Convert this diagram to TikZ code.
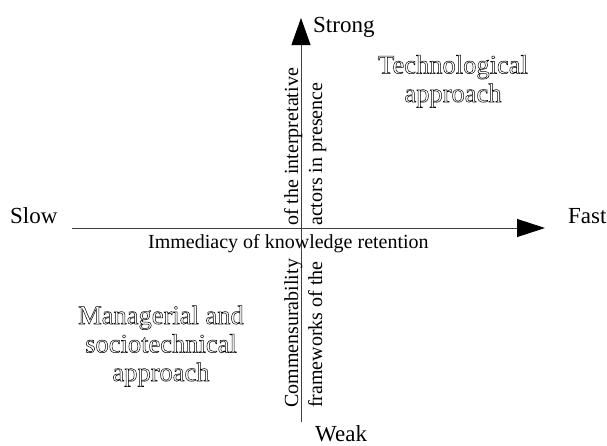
\documentclass[tikz,border=0pt]{standalone}
\usepackage{fontspec}
\setmainfont{Liberation Serif}
\usetikzlibrary{arrows.meta}
\tikzset{
  axis/.style={draw=black!75, line width=0.8pt},
  axislabel/.style={inner sep=0pt, font=\fontsize{20}{22}\selectfont},
  endlabel/.style={inner sep=0pt, font=\fontsize{23}{25}\selectfont},
  region/.style={inner sep=0pt, align=center, font=\fontsize{26.5}{28.5}\selectfont},
}
\newcommand{\hollow}[1]{\special{pdf:literal direct 1 Tr 0.5 w}#1\special{pdf:literal direct 0 Tr}}
\begin{document}
\begin{tikzpicture}[x=1pt,y=-1pt]
\useasboundingbox (0,0) rectangle (607,445);
% axes
\coordinate (W) at (72,228);
\coordinate (E) at (545,228);
\coordinate (S) at (301,422);
\coordinate (N) at (301,18);
\draw[axis, -{Triangle[length=28pt,width=18pt,color=black]}] (W) -- (E);
\draw[axis, -{Triangle[length=27pt,width=19pt,color=black]}] (S) -- (N);
% end labels
\node[endlabel, anchor=base west] (slow) at (10,223) {Slow};
\node[endlabel, anchor=base west] (fast) at (568,223) {Fast};
\node[endlabel, anchor=base west] (strong) at (313,32) {Strong};
\node[endlabel, anchor=base west] (weak) at (315,441) {Weak};
% axis labels
\node[axislabel, anchor=base west] (imm) at (148,248) {Immediacy of knowledge retention};
\node[axislabel, rotate=90, anchor=base west] (v1) at (298,226) {of the interpretative};
\node[axislabel, rotate=90, anchor=base west] (v2) at (322,226) {actors in presence};
\node[axislabel, rotate=90, anchor=base west] (v3) at (298,408) {Commensurability};
\node[axislabel, rotate=90, anchor=base west] (v4) at (322,408) {frameworks of the};
% regions
\node[region, anchor=base] (tech) at (453,102) {\hollow{Technological}\\\hollow{approach}};
\node[region, anchor=base] (man) at (161,381) {\hollow{Managerial and}\\\hollow{sociotechnical}\\\hollow{approach}};
\end{tikzpicture}
\end{document}
